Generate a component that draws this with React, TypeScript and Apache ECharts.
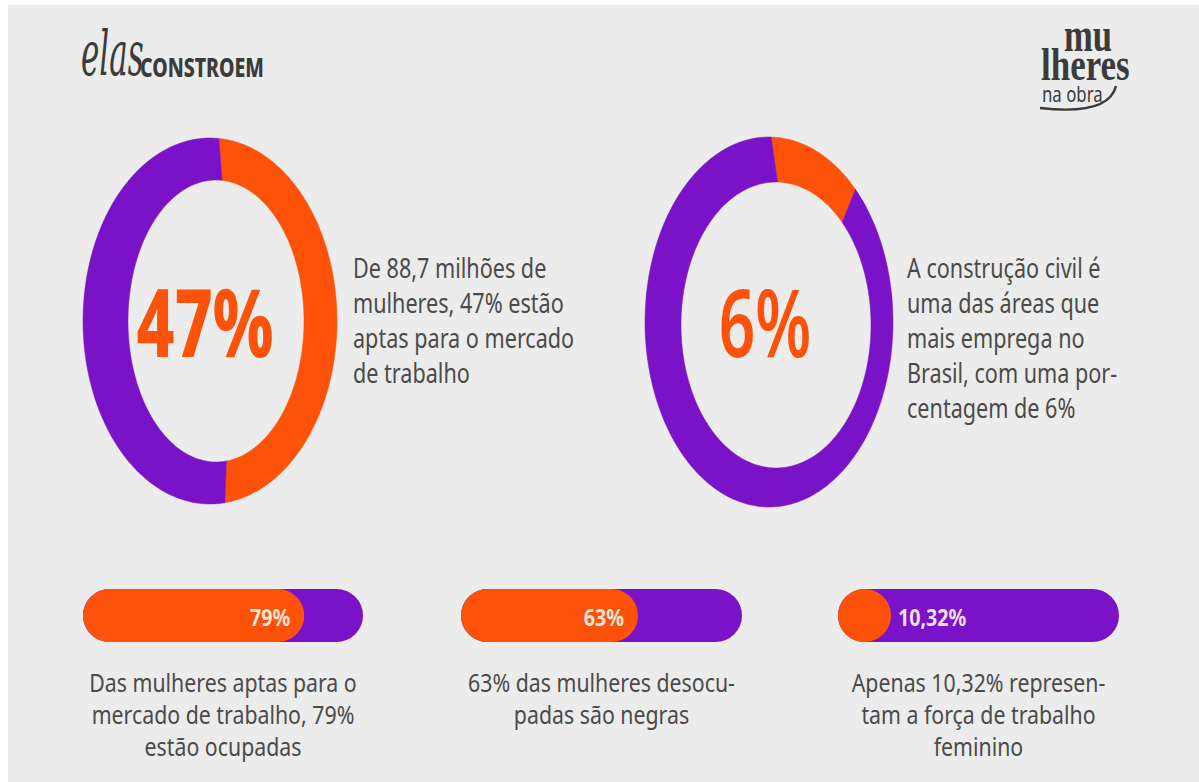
import React, { useEffect, useRef } from "react";
import * as echarts from "echarts";

// ---- data ----
const donutLabels = ["47%", "6%"];
const donutArcShares = [47, 12]; // orange arc share as drawn in the picture
const donutCaptions = [
  ["De 88,7 milhões de", "mulheres, 47% estão", "aptas para o mercado", "de trabalho"],
  ["A construção civil é", "uma das áreas que", "mais emprega no", "Brasil, com uma por-", "centagem de 6%"],
];
const barValues = [79, 63, 10.32];
const barCaptions = [
  ["Das mulheres aptas para o", "mercado de trabalho, 79%", "estão ocupadas"],
  ["63% das mulheres desocu-", "padas são negras"],
  ["Apenas 10,32% represen-", "tam a força de trabalho", "feminino"],
];

// ---- styles / layout ----
const ORANGE = "#FF5209";
const PURPLE = "#7A12C8";
const TEXT = "#4a4a4a";
const LOGO = "#3b3b3b";
const FONT = '"Noto Sans", "Open Sans", sans-serif';

const donutGeom = [
  { o: { cx: 210, cy: 321, rx: 127, ry: 183 }, i: { cx: 216, cy: 321, rx: 88, ry: 141 }, rot: 4, labelX: 205, textX: 353, weight: 800, labelScale: 0.7 },
  { o: { cx: 769, cy: 322, rx: 124, ry: 185 }, i: { cx: 776, cy: 325, rx: 95, ry: 143 }, rot: 1, labelX: 765, textX: 907, weight: 600, labelScale: 0.68 },
];
const barGrids = [
  { left: 83, width: 280 },
  { left: 461, width: 281 },
  { left: 838, width: 281 },
];
const BAR_TOP = 589;
const BAR_H = 53;

function txt(text: string, x: number, y: number, size: number, o: any = {}) {
  const align = o.align || "left";
  return {
    type: "text",
    x,
    y,
    scaleX: o.scaleX ?? 0.8,
    z: 5,
    style: {
      text,
      font: `${o.style || "normal"} ${o.weight || 400} ${size}px ${o.family || FONT}`,
      fill: o.fill || TEXT,
      textAlign: align,
      align,
      textVerticalAlign: "middle",
      verticalAlign: "middle",
    },
  };
}

function fmt(v: number) {
  return String(v).replace(".", ",") + "%";
}

export default function App() {
  const ref = useRef<HTMLDivElement>(null);
  useEffect(() => {
    if (!ref.current) return;
    const chart = echarts.init(ref.current, undefined, { renderer: "svg" });

    const donutData: number[][] = [];
    donutArcShares.forEach((s, d) => {
      donutData.push([d, 0, s, 0]);
      donutData.push([d, s, 100, 1]);
    });

    const graphics: any[] = [
      { type: "rect", z: -10, shape: { x: 8, y: 5, width: 1191, height: 777 }, style: { fill: "#ECECEC" } },
      // left logo
      txt("elas", 81, 54, 62, { style: "italic", weight: 400, family: '"DejaVu Serif", serif', scaleX: 0.5, fill: LOGO }),
      txt("CONSTROEM", 140, 67, 26, { weight: 800, scaleX: 0.75, fill: LOGO }),
      // right logo
      txt("mu", 1064, 35, 48, { weight: 700, family: '"Liberation Serif", serif', scaleX: 0.72, fill: LOGO }),
      txt("lheres", 1041, 65, 46, { weight: 700, family: '"Liberation Serif", serif', scaleX: 0.76, fill: LOGO }),
      txt("na obra", 1042, 94, 21, { weight: 400, scaleX: 0.8, fill: LOGO }),
      {
        type: "bezierCurve",
        z: 5,
        shape: { x1: 1040, y1: 108, cpx1: 1075, cpy1: 112, cpx2: 1110, cpy2: 110, x2: 1116, y2: 86 },
        style: { stroke: LOGO, lineWidth: 2.5, fill: "none" },
      },
    ];

    donutGeom.forEach((g, d) => {
      graphics.push(txt(donutLabels[d], g.labelX, 321, 94, { weight: g.weight, scaleX: g.labelScale, fill: ORANGE, align: "center" }));
      donutCaptions[d].forEach((line, k) => {
        graphics.push(txt(line, g.textX, 268 + k * 35, 27, { scaleX: 0.8 }));
      });
    });

    barGrids.forEach((g, b) => {
      const cx = g.left + g.width / 2;
      barCaptions[b].forEach((line, k) => {
        graphics.push(txt(line, cx, 682 + k * 32, 26, { scaleX: 0.82, align: "center" }));
      });
    });

    const option: any = {
      animation: false,
      backgroundColor: "#ffffff",
      grid: barGrids.map((g) => ({ left: g.left, width: g.width, top: BAR_TOP, height: BAR_H })),
      xAxis: barGrids.map((_, i) => ({ type: "value", min: 0, max: 100, show: false, gridIndex: i })),
      yAxis: barGrids.map((_, i) => ({ type: "category", data: ["v"], show: false, gridIndex: i })),
      graphic: { elements: graphics },
      series: [
        {
          type: "custom",
          coordinateSystem: "none",
          data: donutData,
          renderItem: (params: any, api: any) => {
            const d = api.value(0);
            const a = api.value(1);
            const b = api.value(2);
            const c = api.value(3);
            const g = donutGeom[d];
            const rot = (g.rot * Math.PI) / 180;
            const t0 = rot + (a / 100) * Math.PI * 2;
            const t1 = rot + (b / 100) * Math.PI * 2;
            const n = Math.max(6, Math.ceil((b - a) * 2));
            const pts: number[][] = [];
            for (let k = 0; k <= n; k++) {
              const t = t0 + ((t1 - t0) * k) / n;
              pts.push([g.o.cx + g.o.rx * Math.sin(t), g.o.cy - g.o.ry * Math.cos(t)]);
            }
            for (let k = n; k >= 0; k--) {
              const t = t0 + ((t1 - t0) * k) / n;
              pts.push([g.i.cx + g.i.rx * Math.sin(t), g.i.cy - g.i.ry * Math.cos(t)]);
            }
            return {
              type: "polygon",
              shape: { points: pts },
              style: { fill: c === 0 ? ORANGE : PURPLE, stroke: c === 0 ? ORANGE : PURPLE, lineWidth: 0.5 },
            };
          },
        },
        ...barValues.map((v, i) => ({
          type: "custom",
          xAxisIndex: i,
          yAxisIndex: i,
          data: [[v, 0]],
          renderItem: (params: any, api: any) => {
            const val = api.value(0);
            const p0 = api.coord([0, 0]);
            const p1 = api.coord([100, 0]);
            const pv = api.coord([val, 0]);
            const h = api.size([0, 1])[1];
            const cy = p0[1];
            const raw = pv[0] - p0[0];
            const ow = Math.max(raw, h);
            const inside = raw > h * 1.5;
            const label = fmt(val);
            return {
              type: "group",
              children: [
                {
                  type: "rect",
                  shape: { x: p0[0], y: cy - h / 2, width: p1[0] - p0[0], height: h, r: h / 2 },
                  style: { fill: PURPLE },
                },
                {
                  type: "rect",
                  shape: { x: p0[0], y: cy - h / 2, width: ow, height: h, r: h / 2 },
                  style: { fill: ORANGE },
                },
                {
                  type: "text",
                  x: inside ? p0[0] + ow - 14 : p0[0] + ow + 7,
                  y: cy + 1,
                  scaleX: 0.82,
                  style: {
                    text: label,
                    font: `700 24px ${FONT}`,
                    fill: inside ? "#FBE6D6" : "#F1DDF6",
                    textAlign: inside ? "right" : "left",
                    align: inside ? "right" : "left",
                    textVerticalAlign: "middle",
                    verticalAlign: "middle",
                  },
                },
              ],
            };
          },
        })),
      ],
    };
    chart.setOption(option);
    return () => chart.dispose();
  }, []);

  return (
    <div
      ref={ref}
      style={{ position: "fixed", left: 0, top: 0, width: 1199, height: 782 }}
    />
  );
}
